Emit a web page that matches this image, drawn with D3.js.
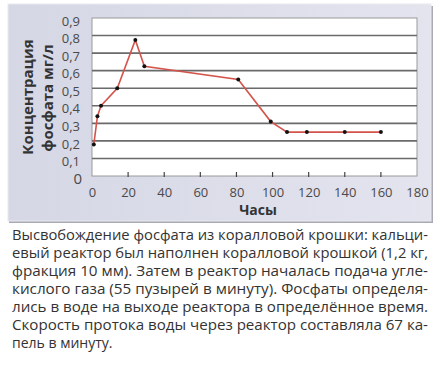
<!DOCTYPE html>
<html>
  <head>
    <meta charset="utf-8">
    <title>Фосфат</title>
    <script src="https://cdn.jsdelivr.net/npm/d3@7"></script>
    <style>
    html,
    body {
        margin: 0;
        padding: 0;
        background: #fff;
    }
    #vis text {
        font-family: 'Open Sans', sans-serif;
    }
    .tick text {
        font-size: 13px;
        fill: #4a4a4a;
    }
    .title {
        font-weight: bold;
        fill: #333;
    }
    .caption {
        font-size: 14px;
        fill: #333;
    }
    </style>
  </head>

  <body>
    <div id='vis'></div>
    <script>

      // hours and phosphate concentration (mg/l)
      var hours = [1, 3, 5, 14, 24, 29, 81, 99, 108, 119, 140, 160];
      var phosphate = [0.18, 0.34, 0.40, 0.50, 0.775, 0.625, 0.55, 0.31, 0.25, 0.25, 0.25, 0.25];

      var xTicks = [0, 20, 40, 60, 80, 100, 120, 140, 160, 180];
      var yTicks = [0, 0.1, 0.2, 0.3, 0.4, 0.5, 0.6, 0.7, 0.8, 0.9];

      var captionLines = [
        'Высвобождение фосфата из коралловой крошки: кальци-',
        'евый реактор был наполнен коралловой крошкой (1,2 кг,',
        'фракция 10 мм). Затем в реактор началась подача угле-',
        'кислого газа (55 пузырей в минуту). Фосфаты определя-',
        'лись в воде на выходе реактора в определённое время.',
        'Скорость протока воды через реактор составляла 67 ка-',
        'пель в минуту.'
      ];

      var width = 440;
      var height = 372;

      var svg = d3.select('#vis').append('svg')
          .attr('width', width)
          .attr('height', height);

      // panel background
      var grad = svg.append('defs').append('linearGradient')
          .attr('id', 'panelGrad')
          .attr('x1', 0).attr('x2', 1).attr('y1', 0).attr('y2', 0);
      grad.append('stop').attr('offset', '0%').attr('stop-color', '#d5d7e5');
      grad.append('stop').attr('offset', '100%').attr('stop-color', '#e3e4ee');

      svg.append('rect')
          .attr('x', 9).attr('y', 6)
          .attr('width', 424).attr('height', 217)
          .attr('fill', '#a9aab3');
      svg.append('rect')
          .attr('x', 8).attr('y', 4)
          .attr('width', 423).attr('height', 217)
          .attr('fill', 'url(#panelGrad)')
          .attr('stroke', '#e9eaf0')
          .attr('stroke-width', 1);

      var x = d3.scaleLinear().domain([0, 180]).range([92, 417]);
      var y = d3.scaleLinear().domain([0, 0.9]).range([176, 18]);

      // plot area
      svg.append('rect')
          .attr('x', x(0)).attr('y', y(0.9))
          .attr('width', x(180) - x(0)).attr('height', y(0) - y(0.9))
          .attr('fill', '#ffffff')
          .attr('stroke', '#9a9a9a')
          .attr('stroke-width', 1);

      // grid lines
      svg.selectAll('line.grid')
          .data(yTicks.filter(function(d) { return d > 0 && d < 0.9; }))
          .enter()
          .append('line')
          .attr('class', 'grid')
          .attr('x1', x(0)).attr('x2', x(180))
          .attr('y1', function(d) { return y(d); })
          .attr('y2', function(d) { return y(d); })
          .attr('stroke', '#6a6a6a')
          .attr('stroke-width', 1.6);

      // y axis labels
      var yAxis = d3.axisLeft(y)
          .tickValues(yTicks)
          .tickSize(0)
          .tickPadding(12)
          .tickFormat(function(d) { return d3.format('.1f')(d).replace('.', ','); });
      var gy = svg.append('g')
          .attr('transform', 'translate(' + x(0) + ',3)')
          .call(yAxis);
      gy.select('.domain').remove();
      gy.selectAll('.tick text')
          .text(function(d) { return d === 0 ? '0' : d3.format('.1f')(d).replace('.', ','); })
          .attr('x', function(d) { return d === 0 ? -10 : -12; })
          .style('font-size', function(d) { return d === 0 ? '15px' : '13px'; });

      // x axis
      var xAxis = d3.axisBottom(x)
          .tickValues(xTicks)
          .tickSize(0)
          .tickPadding(12);
      var gx = svg.append('g')
          .attr('transform', 'translate(0,' + y(0) + ')')
          .call(xAxis);
      gx.select('.domain').remove();

      // little tick marks at the axis
      svg.selectAll('line.xtick')
          .data(xTicks.filter(function(d) { return d > 0 && d < 180; }))
          .enter()
          .append('line')
          .attr('class', 'xtick')
          .attr('x1', function(d) { return x(d); })
          .attr('x2', function(d) { return x(d); })
          .attr('y1', y(0) - 4)
          .attr('y2', y(0) + 1)
          .attr('stroke', '#444')
          .attr('stroke-width', 1.2);

      // line and points
      var pts = hours.map(function(h, i) { return [h, phosphate[i]]; });

      svg.append('path')
          .datum(pts)
          .attr('fill', 'none')
          .attr('stroke', '#d4544c')
          .attr('stroke-width', 1.6)
          .attr('d', d3.line()
              .x(function(d) { return x(d[0]); })
              .y(function(d) { return y(d[1]); }));

      svg.selectAll('circle')
          .data(pts)
          .enter()
          .append('circle')
          .attr('cx', function(d) { return x(d[0]); })
          .attr('cy', function(d) { return y(d[1]); })
          .attr('r', 2)
          .attr('fill', '#111');

      // axis titles
      svg.append('text')
          .attr('class', 'title')
          .attr('x', 258).attr('y', 215)
          .attr('text-anchor', 'middle')
          .style('font-size', '14px')
          .text('Часы');

      svg.append('text')
          .attr('class', 'title')
          .attr('transform', 'translate(33,97) rotate(-90)')
          .attr('text-anchor', 'middle')
          .style('font-size', '15px')
          .text('Концентрация');
      svg.append('text')
          .attr('class', 'title')
          .attr('transform', 'translate(53,98) rotate(-90)')
          .attr('text-anchor', 'middle')
          .style('font-size', '15px')
          .text('фосфата мг/л');

      // caption, justified
      svg.selectAll('text.caption')
          .data(captionLines)
          .enter()
          .append('text')
          .attr('class', 'caption')
          .attr('x', 12)
          .attr('y', function(d, i) { return 240 + i * 18; })
          .attr('textLength', function(d, i) { return i < captionLines.length - 1 ? 416 : null; })
          .attr('lengthAdjust', 'spacingAndGlyphs')
          .text(function(d) { return d; });

    </script>
  </body>
</html>
